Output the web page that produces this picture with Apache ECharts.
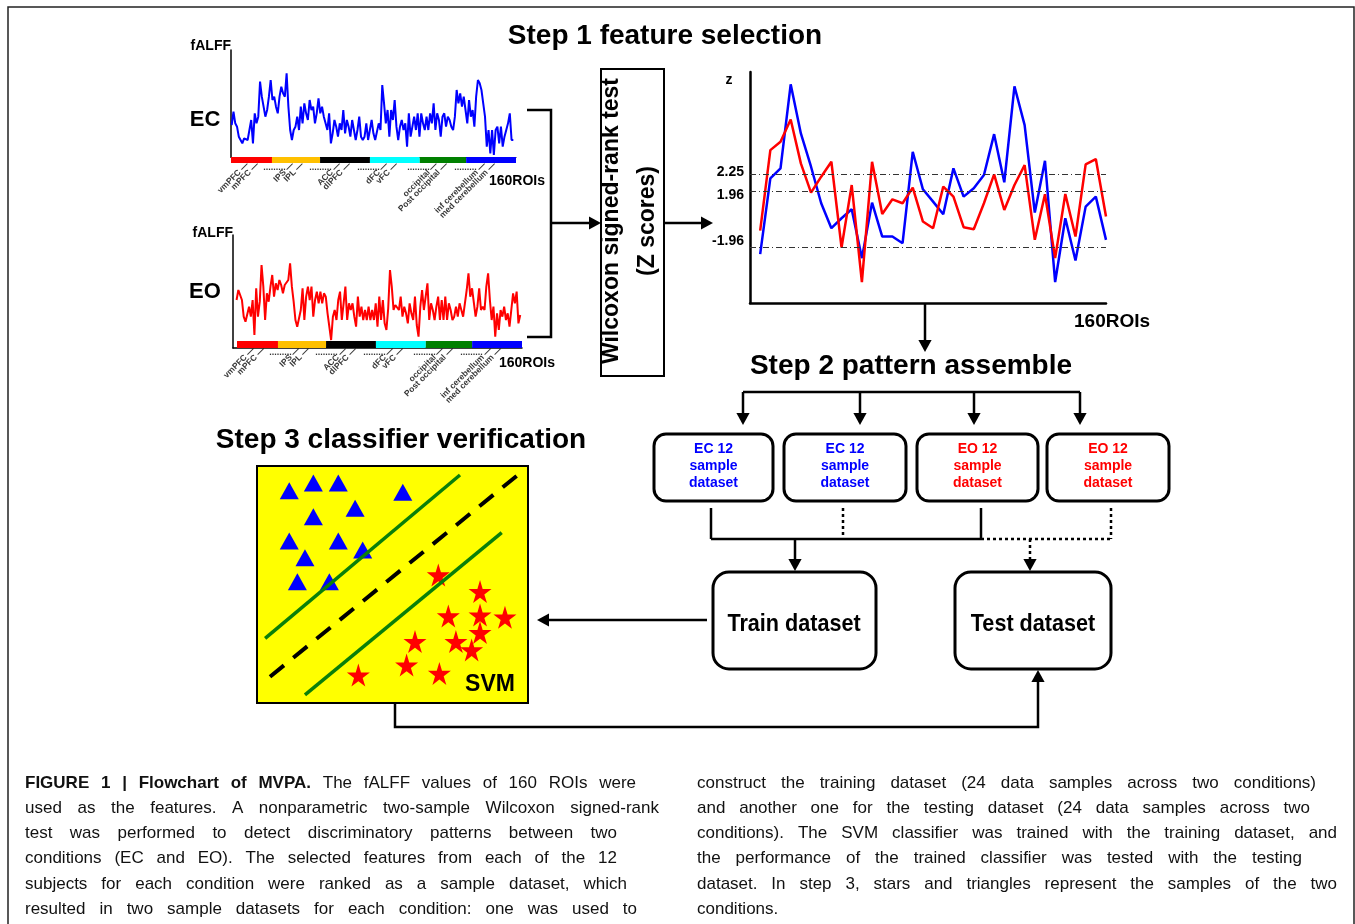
<!DOCTYPE html>
<html><head><meta charset="utf-8">
<script src="https://cdn.jsdelivr.net/npm/echarts@6/dist/echarts.min.js"></script>
<style>html,body{margin:0;padding:0;background:#fff}#c{width:1355px;height:924px}</style>
</head><body><div id="c"></div>
<script>
// ---------------- data ----------------
const ecValues = [
 115,155,120,110,80,70,60,75,80,70,100,130,
 60,150,120,140,245,200,170,140,160,200,250,
 190,200,170,150,200,230,210,200,270,170,100,
 70,100,110,140,100,170,120,180,150,130,190,160,
 170,120,150,195,150,170,140,120,100,150,60,90,
 130,110,80,120,100,160,90,130,110,80,130,100,
 70,100,140,80,70,80,120,70,100,130,90,
 70,70,120,100,235,180,120,160,80,160,130,
 190,110,70,110,130,100,120,50,150,80,110,
 140,100,150,80,150,120,100,140,100,150,120,
 180,100,150,130,80,140,150,110,140,130,110,
 100,140,220,180,210,170,200,160,120,190,140,
 160,110,200,250,240,220,180,140,50,100,30,
 100,25,100,110,60,110,50,80,100,120,150,
 70,70];
const eoValues = [
 160,190,185,160,110,95,100,140,110,160,
 55,195,110,155,265,200,100,180,155,200,
 235,170,210,190,220,205,180,205,200,220,
 270,200,155,100,80,85,130,195,100,170,
 200,160,200,110,160,185,150,185,150,180,
 170,120,120,40,110,130,100,160,185,100,
 150,200,100,150,130,150,110,80,170,110,
 140,100,130,100,140,100,130,100,150,80,
 170,100,160,90,70,135,250,200,130,145,
 145,130,170,110,140,120,90,150,120,100,
 170,85,50,140,190,130,170,210,100,150,
 130,100,140,170,100,160,100,170,100,150,
 130,100,110,140,110,150,130,110,110,190,
 240,170,195,190,110,140,195,130,140,130,
 200,240,160,100,140,50,120,70,130,110,
 140,100,120,80,130,180,150,185,90,115];
const roiGroupSizes = [23, 27, 28, 28, 26, 28];
const regionLabels = ['vmPFC','mPFC','IPS','IPL','ACC','dlPFC','dFC','vFC','occipital','Post occipital','inf cerebellum','med cerebellum'];
const regionLabelROI = [9.5,15.2,34.8,40.4,61.2,66.8,87.6,93.2,115.6,121.3,142.6,148.2];
const gapDotsROI = [24.7,50.5,77.5,105.5,131.9];
// Z scores (schematic plot units)
const zBlue = [147,375,405,658,510,410,300,225,255,282,135,302,200,200,180,455,342,305,267,405,320,345,385,508,363,652,535,272,428,63,255,128,290,320,190];
const zRed  = [218,460,485,552,420,332,380,425,167,355,63,425,268,312,300,347,245,225,350,320,228,222,300,387,280,355,415,190,327,135,328,200,417,433,260];
const zRefLabels = ['2.25','1.96','-1.96'];
const zRefLevels = [387, 337, 168];
// SVM samples
const ecTriangles = [[11.9,89.6],[20.8,92.8],[30.0,92.8],[53.8,88.9],[20.8,78.6],[36.2,82.2],[11.9,68.4],[30.0,68.4],[39.0,64.6],[17.7,61.3],[14.9,51.2],[26.7,51.2]];
const eoStars = [[66.9,54.0],[82.3,47.0],[70.6,36.7],[82.3,37.1],[91.5,36.2],[82.3,29.7],[73.4,25.9],[79.2,22.4],[58.3,25.9],[55.2,16.0],[67.3,12.5],[37.4,11.8]];
const upperMargin = [[3.0,27.3],[74.9,96.2]];
const lowerMargin = [[17.7,3.4],[90.3,71.9]];
const hyperplane  = [[4.8,11.1],[95.8,95.8]];
const captionLeft = [
 'FIGURE 1 | Flowchart of MVPA. The fALFF values of 160 ROIs were',
 'used as the features. A nonparametric two-sample Wilcoxon signed-rank',
 'test was performed to detect discriminatory patterns between two',
 'conditions (EC and EO). The selected features from each of the 12',
 'subjects for each condition were ranked as a sample dataset, which',
 'resulted in two sample datasets for each condition: one was used to'];
const captionRight = [
 'construct the training dataset (24 data samples across two conditions)',
 'and another one for the testing dataset (24 data samples across two',
 'conditions). The SVM classifier was trained with the training dataset, and',
 'the performance of the trained classifier was tested with the testing',
 'dataset. In step 3, stars and triangles represent the samples of the two',
 'conditions.'];

// ---------------- styles / layout ----------------
const groupColors = ['#FF0000','#FFC000','#000000','#00FFFF','#008000','#0000FF'];
const zLabelOffsets = [-2, 4, -6];
const FONT = 'Liberation Sans, Arial, Helvetica, sans-serif';
const starPath = 'path://M50,0 L61,35 L98,35 L68,57 L79,91 L50,70 L21,91 L32,57 L2,35 L39,35 Z';

function bandData(){
  let acc = 0; return roiGroupSizes.map((s,i)=>{const d=[acc, acc+s, i]; acc+=s; return d;});
}
function bandSeries(idx){
  return {type:'custom', xAxisIndex:idx, yAxisIndex:idx, silent:true,
    encode:{x:[0,1]}, data:bandData(),
    renderItem:(params, api)=>{
      const a = api.coord([api.value(0), 1]); const b = api.coord([api.value(1), 0]);
      return {type:'rect', shape:{x:a[0], y:a[1], width:b[0]-a[0], height:b[1]-a[1]}, style:{fill:groupColors[api.value(2)]}};
    }};
}
function labelSeries(idx){
  return [{type:'scatter', xAxisIndex:idx, yAxisIndex:idx, silent:true, symbolSize:1, clip:false,
    itemStyle:{color:'rgba(0,0,0,0)'},
    data: regionLabelROI.map((r,i)=>({value:[r,0], name:regionLabels[i]})),
    label:{show:true, position:[0,1], formatter:p=>p.name+' \u2014', rotate:45, align:'right', verticalAlign:'middle',
      fontSize:8.5, fontWeight:'bold', fontFamily:FONT, color:'#000'}},
   {type:'scatter', xAxisIndex:idx, yAxisIndex:idx, silent:true, symbolSize:1, clip:false,
    itemStyle:{color:'rgba(0,0,0,0)'},
    data: gapDotsROI.map(r=>[r,0]),
    label:{show:true, position:[0,1], formatter:'.........', align:'center', verticalAlign:'top',
      fontSize:9, fontWeight:'bold', fontFamily:FONT, color:'#000'}}];
}
const hidden = {show:false};
function ax(type, min, max, lineShow, lw, gi){
  return {type:type, gridIndex:gi, min:min, max:max, axisLine:{show:lineShow, onZero:false, lineStyle:{color:'#000', width:lw}},
    axisTick:hidden, axisLabel:hidden, splitLine:hidden};
}

// graphic helpers
const G = [];
function line(x1,y1,x2,y2,lw,dash){G.push({type:'line', shape:{x1,y1,x2,y2}, style:{stroke:'#000', lineWidth:lw||2.5, lineDash:dash||null}, z:10});}
function head(x,y,dir,sz){ // tip at x,y
  sz = sz||12; const w = sz*0.55; let pts;
  if(dir==='r') pts=[[x,y],[x-sz,y-w],[x-sz,y+w]];
  if(dir==='l') pts=[[x,y],[x+sz,y-w],[x+sz,y+w]];
  if(dir==='d') pts=[[x,y],[x-w,y-sz],[x+w,y-sz]];
  if(dir==='u') pts=[[x,y],[x-w,y+sz],[x+w,y+sz]];
  G.push({type:'polygon', shape:{points:pts}, style:{fill:'#000'}, z:10});
}
function text(t,x,y,o){
  o=o||{};
  G.push({type:'text', x:x, y:y, rotation:o.rot||0, scaleX:o.sx||1, z:11,
    style:{text:t, fontSize:o.fs||14, fontWeight:o.fw||'bold', fontFamily:FONT, fill:o.c||'#000',
      align:o.a||'center', textAlign:o.a||'center', verticalAlign:'middle', textVerticalAlign:'middle'}});
}
function rrect(x,y,w,h,r,lw){G.push({type:'rect', shape:{x,y,width:w,height:h,r:r}, style:{fill:'#fff', stroke:'#000', lineWidth:lw}, z:9});}

// outer frame
G.push({type:'rect', shape:{x:8,y:7,width:1346,height:960}, style:{fill:'none', stroke:'#222', lineWidth:1.5}, z:1});

// titles
text('Step 1 feature selection', 665, 36, {fs:28});
text('Step 2 pattern assemble', 911, 366, {fs:28});
text('Step 3 classifier verification', 401, 440, {fs:28});
// left chart labels
text('fALFF', 231, 46, {fs:14, a:'right'});
text('EC', 205, 120, {fs:22});
text('160ROIs', 489, 181, {fs:14, a:'left'});
text('fALFF', 233, 233, {fs:14, a:'right'});
text('EO', 205, 292, {fs:22});
text('160ROIs', 499, 363, {fs:14, a:'left'});
// z chart labels
text('z', 729, 80, {fs:14});
text('160ROIs', 1074, 322, {fs:19, a:'left'});
// bracket + arrows step 1
G.push({type:'polyline', shape:{points:[[527,110],[551,110],[551,337],[527,337]]}, style:{stroke:'#000', lineWidth:2.5, fill:null}, z:10});
line(551,223,590,223); head(601,223,'r');
G.push({type:'rect', shape:{x:601,y:69,width:63,height:307}, style:{fill:'#fff', stroke:'#000', lineWidth:2}, z:8});
text('Wilcoxon signed-rank test', 612, 221, {fs:23, rot:Math.PI/2});
text('(Z scores)', 648, 221, {fs:23, rot:Math.PI/2});
line(664,223,702,223); head(713,223,'r');
line(925,303,925,340); head(925,352,'d');
// step 2 tree
line(743,392,1080,392);
[743,860,974,1080].forEach(x=>{line(x,392,x,414); head(x,425,'d');});
const boxX = [[654,119],[784,122],[917,121],[1047,122]];
const boxTxt = [['EC 12','#0000FF'],['EC 12','#0000FF'],['EO 12','#FF0000'],['EO 12','#FF0000']];
boxX.forEach((b,i)=>{rrect(b[0],434,b[1],67,12,3);
  const cx=b[0]+b[1]/2; text(boxTxt[i][0],cx,449,{fs:14,c:boxTxt[i][1]}); text('sample',cx,466,{fs:14,c:boxTxt[i][1]}); text('dataset',cx,483,{fs:14,c:boxTxt[i][1]});});
line(711,508,711,539); line(981,508,981,539); line(711,539,981,539);
line(843,508,843,539,2.5,[3,3]); line(1111,508,1111,539,2.5,[3,3]); line(981,539,1111,539,2.5,[3,3]);
line(795,539,795,560); head(795,571,'d');
line(1030,539,1030,560,2.5,[3,3]); head(1030,571,'d');
rrect(713,572,163,97,16,3); text('Train dataset', 794, 624, {fs:24, sx:0.9});
rrect(955,572,156,97,16,3); text('Test dataset', 1033, 624, {fs:24, sx:0.9});
line(707,620,548,620); head(537,620,'l');
G.push({type:'polyline', shape:{points:[[395,704],[395,727],[1038,727],[1038,681]]}, style:{stroke:'#000', lineWidth:2.5, fill:null}, z:10});
head(1038,670,'u');
text('SVM', 490, 685, {fs:23});

// caption with justified word placement
const FS = 17;
const mctx = document.createElement('canvas').getContext('2d');
function mw(t,b){mctx.font=(b?'bold ':'')+FS+'px '+FONT; return mctx.measureText(t).width;}
const capY = [783,808,833,858,884,909];
function caption(lines, x0, ends, boldFirst){
  lines.forEach((ln,li)=>{
    const words = ln.split(' ');
    const bold = words.map((w,wi)=> li===0 && wi<boldFirst);
    const ws = words.map((w,wi)=>mw(w,bold[wi]));
    const tot = ws.reduce((a,b)=>a+b,0);
    let gap = ends[li] ? (ends[li]-x0-tot)/(words.length-1) : mw(' ',false);
    let sx = 1;
    if (gap < 3) {
      const avail = ends[li]-x0-3*(words.length-1); sx = avail/tot; gap = 3;
      for (let k=0;k<ws.length;k++) ws[k] *= sx;
    }
    let x = x0;
    words.forEach((w,wi)=>{
      G.push({type:'text', x:x, y:capY[li], scaleX:sx, z:11, style:{text:w, fontSize:FS, fontWeight:bold[wi]?'bold':'normal', fontFamily:FONT, fill:'#111',
        align:'left', textAlign:'left', verticalAlign:'middle', textVerticalAlign:'middle'}});
      x += ws[wi] + gap;
    });
  });
}
caption(captionLeft, 25, [636,659,617,617,627,637], 6);
caption(captionRight, 697, [1316,1310,1337,1302,1337,null], 0);

const option = {
  animation:false,
  backgroundColor:'#fff',
  grid:[
    {left:231, top:50, width:285, height:107},
    {left:231, top:157, width:285, height:6},
    {left:233, top:235, width:289, height:113},
    {left:237, top:341, width:285, height:7},
    {left:750, top:72, width:356, height:231},
    {left:257, top:466, width:271, height:237, show:true, backgroundColor:'#FFFF00', borderColor:'#000', borderWidth:2}
  ],
  xAxis:[
    ax('value',-0.4,160.5,true,1,0),
    ax('value',0,160,false,1,1),
    ax('value',-2,160,true,1.5,2),
    ax('value',0,160,false,1,3),
    ax('value',-1,34,true,2.5,4),
    ax('value',0,100,false,1,5)
  ],
  yAxis:[
    ax('value',19,340,true,1.5,0),
    ax('value',0,1,false,1,1),
    ax('value',16,355,true,1.5,2),
    ax('value',0,1,false,1,3),
    ax('value',0,695,true,2.5,4),
    ax('value',0,100,false,1,5)
  ],
  series:[
    {type:'line', xAxisIndex:0, yAxisIndex:0, data:ecValues.map((v,i)=>[i,v]), symbol:'none', lineStyle:{color:'#0000FF', width:2}, silent:true},
    bandSeries(1), ...labelSeries(1),
    {type:'line', xAxisIndex:2, yAxisIndex:2, data:eoValues.map((v,i)=>[i,v]), symbol:'none', lineStyle:{color:'#FF0000', width:2}, silent:true},
    bandSeries(3), ...labelSeries(3),
    {type:'line', xAxisIndex:4, yAxisIndex:4, data:zBlue.map((v,i)=>[i,v]), symbol:'none', lineStyle:{color:'#0000FF', width:2.5}, silent:true,
      markLine:{silent:true, symbol:'none',
        data:zRefLevels.map((v,i)=>({yAxis:v, name:zRefLabels[i], label:{offset:[0, zLabelOffsets[i]]}})),
        label:{position:'start', formatter:'{b}', fontSize:14, fontWeight:'bold', fontFamily:FONT, color:'#000', distance:6},
        lineStyle:{color:'#333', width:1, type:[6,3,1,3]}}},
    {type:'line', xAxisIndex:4, yAxisIndex:4, data:zRed.map((v,i)=>[i,v]), symbol:'none', lineStyle:{color:'#FF0000', width:2.5}, silent:true},
    {type:'line', xAxisIndex:5, yAxisIndex:5, data:upperMargin, symbol:'none', lineStyle:{color:'#0A7F0A', width:3.5}, silent:true},
    {type:'line', xAxisIndex:5, yAxisIndex:5, data:lowerMargin, symbol:'none', lineStyle:{color:'#0A7F0A', width:3.5}, silent:true},
    {type:'line', xAxisIndex:5, yAxisIndex:5, data:hyperplane, symbol:'none', lineStyle:{color:'#000', width:4, type:[18,12]}, silent:true},
    {type:'scatter', xAxisIndex:5, yAxisIndex:5, data:ecTriangles, symbol:'triangle', symbolSize:[19,17], itemStyle:{color:'#0000FF', opacity:1}, silent:true},
    {type:'scatter', xAxisIndex:5, yAxisIndex:5, data:eoStars, symbol:starPath, symbolSize:23, itemStyle:{color:'#FF0000', opacity:1}, silent:true}
  ],
  graphic:{elements:G}
};
const chart = echarts.init(document.getElementById('c'));
chart.setOption(option);
</script></body></html>
